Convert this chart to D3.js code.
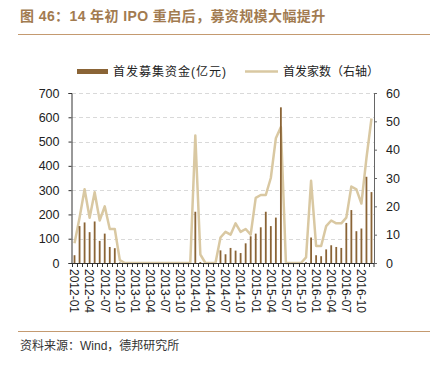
<!DOCTYPE html>
<html>
<head>
<meta charset="utf-8">
<script src="https://d3js.org/d3.v7.min.js"></script>
<style>
    body { margin: 0; background: #fff; }
    svg { display: block; font-family: "Liberation Sans", Arial, "Noto Sans CJK SC", sans-serif; }
</style>
</head>
<body>
<div id="chart"></div>
<script>
// monthly categories 2012-01 .. 2016-12
var months = [
    "2012-01","2012-02","2012-03","2012-04","2012-05","2012-06","2012-07","2012-08","2012-09","2012-10","2012-11","2012-12",
    "2013-01","2013-02","2013-03","2013-04","2013-05","2013-06","2013-07","2013-08","2013-09","2013-10","2013-11","2013-12",
    "2014-01","2014-02","2014-03","2014-04","2014-05","2014-06","2014-07","2014-08","2014-09","2014-10","2014-11","2014-12",
    "2015-01","2015-02","2015-03","2015-04","2015-05","2015-06","2015-07","2015-08","2015-09","2015-10","2015-11","2015-12",
    "2016-01","2016-02","2016-03","2016-04","2016-05","2016-06","2016-07","2016-08","2016-09","2016-10","2016-11","2016-12"
];

// 首发募集资金 (亿元), left axis
var ipoAmount = [
    32, 152, 167, 127, 171, 91, 121, 66, 61, 2, 0, 0,
    0, 0, 0, 0, 0, 0, 0, 0, 0, 0, 0, 0,
    211, 4, 0, 0, 0, 52, 36, 62, 51, 41, 81, 110,
    121, 147, 211, 152, 187, 641, 0, 0, 0, 0, 3, 105,
    32, 28, 56, 73, 66, 62, 165, 218, 131, 142, 355, 292
];

// 首发家数, right axis
var ipoCount = [
    7, 16, 26, 16, 25, 15, 20, 12, 12, 1, 0, 0,
    0, 0, 0, 0, 0, 0, 0, 0, 0, 0, 0, 0,
    45, 3, 0, 0, 0, 9, 11, 10, 14, 11, 12, 10,
    23, 24, 24, 30, 44, 48, 0, 0, 0, 0, 2, 29,
    6, 6, 13, 15, 14, 14, 16, 27, 26, 21, 37, 51
];

// x tick labels, every third month
var xLabels = [
    "2012-01","2012-04","2012-07","2012-10","2013-01","2013-04","2013-07","2013-10",
    "2014-01","2014-04","2014-07","2014-10","2015-01","2015-04","2015-07","2015-10",
    "2016-01","2016-04","2016-07","2016-10"
];
var leftTicks = [0, 100, 200, 300, 400, 500, 600, 700];
var rightTicks = [0, 10, 20, 30, 40, 50, 60];

var barColor = "#8a6436",
    lineColor = "#d9c8a2";

var svg = d3.select("#chart").append("svg")
    .attr("width", 443)
    .attr("height", 367);

// title + rules
svg.append("text")
    .attr("x", 20).attr("y", 21)
    .attr("font-size", 14).attr("font-weight", "bold")
    .attr("letter-spacing", 0.4)
    .attr("fill", "#a27b50")
    .text("图 46：14 年初 IPO 重启后，募资规模大幅提升");
svg.append("line")
    .attr("x1", 18).attr("x2", 430).attr("y1", 34.5).attr("y2", 34.5)
    .attr("stroke", "#c49a70").attr("stroke-width", 1);
svg.append("line")
    .attr("x1", 18).attr("x2", 430).attr("y1", 331.5).attr("y2", 331.5)
    .attr("stroke", "#c49a70").attr("stroke-width", 1);
svg.append("text")
    .attr("x", 20).attr("y", 350)
    .attr("font-size", 12).attr("fill", "#333")
    .text("资料来源：Wind，德邦研究所");

// legend
svg.append("rect")
    .attr("x", 77).attr("y", 69).attr("width", 31).attr("height", 5)
    .attr("fill", barColor);
svg.append("text")
    .attr("x", 113).attr("y", 76)
    .attr("font-size", 12).attr("fill", "#222")
    .attr("letter-spacing", 1)
    .text("首发募集资金(亿元)");
svg.append("line")
    .attr("x1", 245).attr("x2", 278).attr("y1", 71.5).attr("y2", 71.5)
    .attr("stroke", lineColor).attr("stroke-width", 2.5);
svg.append("text")
    .attr("x", 283).attr("y", 76)
    .attr("font-size", 12).attr("fill", "#222")
    .text("首发家数（右轴）");

// scales
var x = d3.scaleBand().domain(months).range([72, 374]).padding(0);
var yL = d3.scaleLinear().domain([0, 700]).range([263, 93]);
var yR = d3.scaleLinear().domain([0, 60]).range([263, 93]);

// dashed grid
svg.append("g").selectAll("line")
    .data(leftTicks.slice(1))
    .enter().append("line")
    .attr("x1", 72).attr("x2", 374)
    .attr("y1", function(d) { return Math.round(yL(d)) + 0.5; })
    .attr("y2", function(d) { return Math.round(yL(d)) + 0.5; })
    .attr("stroke", "#d9d9d9")
    .attr("stroke-dasharray", "4,3");

// count line
var line = d3.line()
    .x(function(d, i) { return x(months[i]) + x.bandwidth() / 2; })
    .y(function(d) { return yR(d); });
svg.append("path")
    .datum(ipoCount)
    .attr("d", line)
    .attr("fill", "none")
    .attr("stroke", lineColor)
    .attr("stroke-width", 2.5)
    .attr("stroke-linejoin", "round");

// amount bars
svg.append("g").selectAll("rect")
    .data(ipoAmount)
    .enter().append("rect")
    .attr("x", function(d, i) { return x(months[i]) + x.bandwidth() / 2 - 0.9; })
    .attr("width", 1.8)
    .attr("y", function(d) { return yL(d); })
    .attr("height", function(d) { return yL(0) - yL(d); })
    .attr("fill", barColor);

// left axis
var gl = svg.append("g")
    .attr("transform", "translate(71.5,0)")
    .call(d3.axisLeft(yL).tickValues(leftTicks).tickSize(3).tickPadding(9));
gl.select(".domain").attr("stroke", "#333");
gl.selectAll(".tick line").attr("stroke", "#333");
gl.selectAll("text").attr("font-size", 12.5).attr("fill", "#222").attr("font-family", "Liberation Sans, Arial");

// right axis
var gr = svg.append("g")
    .attr("transform", "translate(374,0)")
    .call(d3.axisRight(yR).tickValues(rightTicks).tickSize(3).tickPadding(9));
gr.select(".domain").attr("stroke", "#666");
gr.selectAll(".tick line").attr("stroke", "#666");
gr.selectAll("text").attr("font-size", 12.5).attr("fill", "#222").attr("font-family", "Liberation Sans, Arial");

// x axis: line, month ticks, rotated labels
svg.append("line")
    .attr("x1", 71.5).attr("x2", 374).attr("y1", 263.5).attr("y2", 263.5)
    .attr("stroke", "#333");
svg.append("g").selectAll("line")
    .data(months.concat(["end"]))
    .enter().append("line")
    .attr("x1", function(d) { return d === "end" ? 374 : Math.round(x(d)) + 0.5; })
    .attr("x2", function(d) { return d === "end" ? 374 : Math.round(x(d)) + 0.5; })
    .attr("y1", 263.5).attr("y2", 267)
    .attr("stroke", "#333");
svg.append("g").selectAll("text")
    .data(xLabels)
    .enter().append("text")
    .attr("transform", function(d) {
        return "translate(" + (x(d) + x.bandwidth() / 2) + ",269) rotate(90)";
    })
    .attr("dy", "0.35em")
    .attr("font-size", 12)
    .attr("fill", "#222")
    .text(function(d) { return d; });
</script>
</body>
</html>
